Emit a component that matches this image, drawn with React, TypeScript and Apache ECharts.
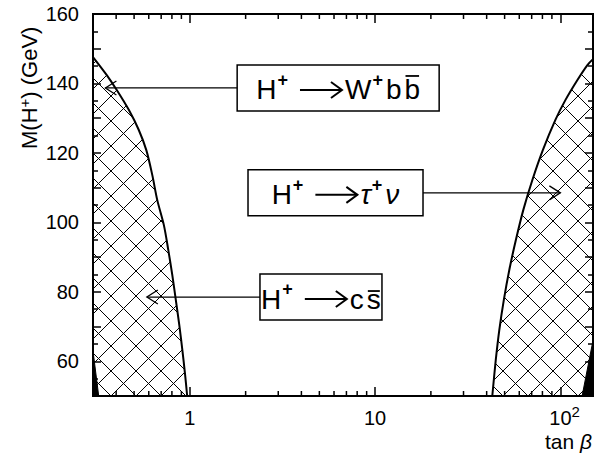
import React, { useEffect, useRef } from 'react';
import * as echarts from 'echarts';

const FONT = '"Liberation Sans", Arial, Helvetica, sans-serif';

// Axis ranges
const X_MIN = 0.3;
const X_MAX = 150;
const Y_MIN = 50;
const Y_MAX = 160;

// Low tan(beta) region boundary
const leftTanB = [0.3, 0.356, 0.403, 0.468, 0.530, 0.582, 0.627, 0.667, 0.724, 0.765, 0.804, 0.840, 0.877, 0.911, 0.943, 0.967];
const leftMass = [147.6, 142.4, 138.1, 132.4, 126.6, 120.8, 113.6, 106.4, 99.2, 92.0, 84.8, 77.6, 70.4, 63.2, 56.0, 50];

// High tan(beta) region boundary
const rightTanB = [42.9, 44.8, 46.8, 49.5, 53.0, 57.5, 63.1, 70.6, 80.4, 94.0, 106.4, 123.6, 139.9, 150];
const rightMass = [50, 60.4, 69.0, 77.6, 86.3, 94.9, 103.6, 112.2, 120.8, 129.5, 135.2, 141.0, 145.3, 147.0];

// Black (fully excluded) slivers
const leftBlackTanB = [0.3, 0.322, 0.3];
const leftBlackMass = [50, 50, 63];
const rightBlackTanB = [131, 150, 150];
const rightBlackMass = [50, 50, 66];

// Ticks / tick labels
const xMajorTicks = [1, 10, 100];
const xMajorLabels = ['1', '10', '10'];
const xMajorLabelSup = ['', '', '2'];
const xMinorTicks = [0.4, 0.5, 0.6, 0.7, 0.8, 0.9, 2, 3, 4, 5, 6, 7, 8, 9, 20, 30, 40, 50, 60, 70, 80, 90];
const yTickInterval = 10;
const yLabelStep = 20;

// Annotations (box left edge tanB, arrow mass level, arrow tip tanB)
const annotationBoxTanB = [1.8, 2.06, 2.39];
const annotationMass = [138.7, 108.5, 78.5];
const annotationTipTanB = [0.35, 100, 0.586];
const annotationSide = ['left', 'right', 'left'];
type Piece = { t?: string; sup?: string; arrow?: boolean; it?: boolean; bar?: boolean };
const annotationPieces: Piece[][] = [
  [{ t: 'H' }, { sup: '+' }, { arrow: true }, { t: 'W' }, { sup: '+' }, { t: 'b' }, { t: 'b', bar: true }],
  [{ t: 'H' }, { sup: '+' }, { arrow: true }, { t: 'τ', it: true }, { sup: '+' }, { t: 'ν', it: true }],
  [{ t: 'H' }, { sup: '+' }, { arrow: true }, { t: 'c' }, { t: 's', bar: true }],
];

const STYLE = {
  gridLeft: 93,
  gridTop: 14,
  gridWidth: 500,
  gridHeight: 382,
  hatchSpacing: 25,
  hatchOffset: [18, 410],
  boxW: [202, 175, 122],
  boxH: 46,
  mainSize: 28,
  supSize: 18,
  arrowLen: 42,
  tickWidth: 1.5,
};

let measureCtx: CanvasRenderingContext2D | null = null;
function measure(text: string, size: number, italic = false, bold = false) {
  if (!measureCtx) measureCtx = document.createElement('canvas').getContext('2d');
  if (!measureCtx) return text.length * size * 0.6;
  measureCtx.font = `${italic ? 'italic ' : ''}${bold ? 'bold ' : ''}${size}px ${FONT}`;
  return measureCtx.measureText(text).width;
}

function clipLine(px: number, py: number, dx: number, dy: number, poly: number[][]) {
  let tmin = Infinity;
  let tmax = -Infinity;
  for (let i = 0; i < poly.length; i++) {
    const [ax, ay] = poly[i];
    const [bx, by] = poly[(i + 1) % poly.length];
    const ex = bx - ax;
    const ey = by - ay;
    const den = dx * ey - dy * ex;
    if (Math.abs(den) < 1e-9) continue;
    const wx = ax - px;
    const wy = ay - py;
    const t = (wx * ey - wy * ex) / den;
    const s = (wx * dy - wy * dx) / den;
    if (s >= -1e-9 && s <= 1 + 1e-9) {
      tmin = Math.min(tmin, t);
      tmax = Math.max(tmax, t);
    }
  }
  return tmax - tmin > 0.5 ? [tmin, tmax] : null;
}

function txt(x: number, y: number, text: string, size: number, opts: any = {}) {
  return {
    type: 'text',
    x,
    y,
    style: {
      text,
      fontSize: size,
      fontFamily: FONT,
      fontStyle: opts.italic ? 'italic' : 'normal',
      fontWeight: opts.bold ? 'bold' : 'normal',
      fill: '#000',
      align: opts.align || 'left',
      textAlign: opts.align || 'left',
      verticalAlign: 'middle',
      textVerticalAlign: 'middle',
    },
  };
}

function seg(x1: number, y1: number, x2: number, y2: number, w = 1.2) {
  return { type: 'line', shape: { x1, y1, x2, y2 }, style: { stroke: '#000', lineWidth: w } };
}

export default function App() {
  const ref = useRef<HTMLDivElement>(null);

  useEffect(() => {
    if (!ref.current) return;
    const chart = echarts.init(ref.current, undefined, { renderer: 'svg' });

    const hatchSeries = (xs: number[], ys: number[], corner: number[], regionIdx: number) => ({
      type: 'custom',
      coordinateSystem: 'cartesian2d',
      silent: true,
      z: 2,
      data: [[corner[0], corner[1]]],
      renderItem: (_params: any, api: any) => {
        const poly = xs.map((x, i) => api.coord([x, ys[i]]));
        poly.push(api.coord(corner));
        const [x0, y0] = api.coord([X_MIN, Y_MIN]);
        const sp = STYLE.hatchSpacing;
        const ax = x0 + STYLE.hatchOffset[regionIdx];
        const children: any[] = [];
        for (const [dx, dy] of [[1, -1], [-1, -1]]) {
          for (let k = -45; k <= 45; k++) {
            const px = ax + k * sp;
            const r = clipLine(px, y0, dx, dy, poly);
            if (r) children.push(seg(px + r[0] * dx, y0 + r[0] * dy, px + r[1] * dx, y0 + r[1] * dy, 1));
          }
        }
        return { type: 'group', children };
      },
    });

    const blackSeries = (xs: number[], ys: number[]) => ({
      type: 'custom',
      coordinateSystem: 'cartesian2d',
      silent: true,
      z: 3,
      data: [[xs[0], ys[0]]],
      renderItem: (_p: any, api: any) => ({
        type: 'polygon',
        shape: { points: xs.map((x, i) => api.coord([x, ys[i]])) },
        style: { fill: '#000', stroke: '#000', lineWidth: 1 },
      }),
    });

    const curveSeries = (xs: number[], ys: number[]) => ({
      type: 'line',
      silent: true,
      z: 4,
      showSymbol: false,
      smooth: 0.3,
      data: xs.map((x, i) => [x, ys[i]]),
      lineStyle: { color: '#000', width: 2 },
    });

    // minor ticks of the log axis at 2..9 x 10^n (bottom and top, inward)
    const minorTickSeries = {
      type: 'custom',
      coordinateSystem: 'cartesian2d',
      silent: true,
      z: 7,
      data: [[X_MIN, Y_MIN]],
      renderItem: (_p: any, api: any) => {
        const y0 = api.coord([X_MIN, Y_MIN])[1];
        const y1 = api.coord([X_MAX, Y_MAX])[1];
        const ch: any[] = [];
        xMinorTicks.forEach((v) => {
          const x = api.coord([v, Y_MIN])[0];
          ch.push(seg(x, y0, x, y0 - 5, STYLE.tickWidth));
          ch.push(seg(x, y1, x, y1 + 5, STYLE.tickWidth));
        });
        return { type: 'group', children: ch };
      },
    };

    const xLabelSeries = {
      type: 'custom',
      coordinateSystem: 'cartesian2d',
      silent: true,
      z: 7,
      data: [[X_MIN, Y_MIN]],
      renderItem: (_p: any, api: any) => {
        const y0 = api.coord([X_MIN, Y_MIN])[1];
        const ch: any[] = [];
        xMajorTicks.forEach((v, i) => {
          const x = api.coord([v, Y_MIN])[0];
          const ly = y0 + 22;
          ch.push(txt(x, ly, xMajorLabels[i], 20, { align: 'center' }));
          if (xMajorLabelSup[i]) {
            const w = measure(xMajorLabels[i], 20);
            ch.push(txt(x + w / 2, ly - 7, xMajorLabelSup[i], 15));
          }
        });
        return { type: 'group', children: ch };
      },
    };

    const annotationSeries = {
      type: 'custom',
      coordinateSystem: 'cartesian2d',
      silent: true,
      z: 6,
      data: annotationBoxTanB.map((x, i) => [x, annotationMass[i]]),
      renderItem: (params: any, api: any) => {
        const i = params.dataIndex;
        const [bx, by] = api.coord([api.value(0), api.value(1)]);
        const tipX = api.coord([annotationTipTanB[i], api.value(1)])[0];
        const w = STYLE.boxW[i];
        const h = STYLE.boxH;
        const ch: any[] = [];
        ch.push({
          type: 'rect',
          shape: { x: bx, y: by - h / 2, width: w, height: h },
          style: { fill: '#fff', stroke: '#000', lineWidth: 1.5 },
        });
        const startX = annotationSide[i] === 'left' ? bx : bx + w;
        const dir = tipX < startX ? -1 : 1;
        ch.push(seg(startX, by, tipX, by, 1.3));
        ch.push({
          type: 'polyline',
          shape: { points: [[tipX - dir * 11, by - 7], [tipX, by], [tipX - dir * 11, by + 7]] },
          style: { stroke: '#000', fill: 'none', lineWidth: 1.3 },
        });
        const pieces = annotationPieces[i];
        const widthOf = (p: Piece) =>
          p.arrow ? STYLE.arrowLen : p.sup ? measure(p.sup, STYLE.supSize, false, true) : measure(p.t || '', STYLE.mainSize, !!p.it);
        const gapOf = (prev: Piece | null, cur: Piece) => {
          if (!prev) return 0;
          if (cur.arrow) return 12;
          if (prev.arrow) return 3;
          if (cur.sup) return 1;
          if (prev.sup) return 3;
          return 3;
        };
        let total = 0;
        pieces.forEach((p, k) => {
          total += gapOf(k ? pieces[k - 1] : null, p) + widthOf(p);
        });
        let cx = bx + (w - total) / 2;
        const cy = by + 2;
        pieces.forEach((p, k) => {
          cx += gapOf(k ? pieces[k - 1] : null, p);
          const pw = widthOf(p);
          if (p.arrow) {
            ch.push(seg(cx, cy, cx + pw, cy, 2));
            ch.push({
              type: 'polyline',
              shape: { points: [[cx + pw - 11, cy - 8], [cx + pw, cy], [cx + pw - 11, cy + 8]] },
              style: { stroke: '#000', fill: 'none', lineWidth: 2 },
            });
          } else if (p.sup) {
            ch.push(txt(cx, cy - 10, p.sup, STYLE.supSize, { bold: true }));
          } else {
            ch.push(txt(cx, cy, p.t || '', STYLE.mainSize, { italic: p.it }));
            if (p.bar) {
              const tall = /[bdhklf]/.test(p.t || '');
              const yb = tall ? cy - 14 : cy - 8;
              ch.push(seg(cx + 1, yb, cx + pw - 1, yb, 1.8));
            }
          }
          cx += pw;
        });
        return { type: 'group', children: ch };
      },
    };

    const tickStyle = { color: '#000', width: STYLE.tickWidth };
    const makeX = (position: string) => ({
      type: 'log',
      logBase: 10,
      min: X_MIN,
      max: X_MAX,
      position,
      axisLine: { show: false },
      axisTick: { show: true, inside: true, length: 9, lineStyle: tickStyle },
      axisLabel: { show: false },
      splitLine: { show: false },
    });
    const makeY = (position: string, showLabel: boolean) => ({
      type: 'value',
      min: Y_MIN,
      max: Y_MAX,
      interval: yTickInterval,
      position,
      axisLine: { show: false },
      axisTick: { show: true, inside: true, length: 8, lineStyle: tickStyle },
      minorTick: { show: true, splitNumber: 2, length: 5, lineStyle: tickStyle },
      splitLine: { show: false },
      minorSplitLine: { show: false },
      axisLabel: {
        show: showLabel,
        color: '#000',
        fontSize: 20,
        fontFamily: FONT,
        margin: 14,
        formatter: (v: number) => (v % yLabelStep === 0 ? String(v) : ''),
      },
    });

    const option: any = {
      animation: false,
      backgroundColor: '#fff',
      grid: {
        left: STYLE.gridLeft,
        top: STYLE.gridTop,
        width: STYLE.gridWidth,
        height: STYLE.gridHeight,
        show: true,
        borderColor: '#000',
        borderWidth: 2,
        backgroundColor: 'transparent',
        containLabel: false,
        outerBoundsMode: 'none',
      },
      xAxis: [makeX('bottom'), makeX('top')],
      yAxis: [makeY('left', true), makeY('right', false)],
      graphic: [
        {
          type: 'text',
          x: 29,
          y: 149,
          rotation: Math.PI / 2,
          style: {
            text: '{a|M(H}{s|+}{a|) (GeV)}',
            rich: {
              a: { fontSize: 22, fontFamily: FONT, fill: '#000', color: '#000', lineHeight: 24 },
              s: { fontSize: 15, fontFamily: FONT, fill: '#000', color: '#000', lineHeight: 12, verticalAlign: 'top' },
            },
            align: 'left',
            textAlign: 'left',
            verticalAlign: 'middle',
            textVerticalAlign: 'middle',
          },
        },
        {
          type: 'text',
          x: 592,
          y: 441,
          style: {
            text: '{a|tan }{b|β}',
            rich: {
              a: { fontSize: 21, fontFamily: FONT, fill: '#000', color: '#000' },
              b: { fontSize: 21, fontFamily: FONT, fontStyle: 'italic', fill: '#000', color: '#000' },
            },
            align: 'right',
            textAlign: 'right',
            verticalAlign: 'middle',
            textVerticalAlign: 'middle',
          },
        },
      ],
      series: [
        hatchSeries(leftTanB, leftMass, [X_MIN, Y_MIN], 0),
        hatchSeries(rightTanB, rightMass, [X_MAX, Y_MIN], 1),
        blackSeries(leftBlackTanB, leftBlackMass),
        blackSeries(rightBlackTanB, rightBlackMass),
        curveSeries(leftTanB, leftMass),
        curveSeries(rightTanB, rightMass),
        minorTickSeries,
        xLabelSeries,
        annotationSeries,
      ],
    };

    chart.setOption(option);
    return () => chart.dispose();
  }, []);

  return <div ref={ref} style={{ position: 'fixed', left: 0, top: 0, width: 605, height: 458 }} />;
}
